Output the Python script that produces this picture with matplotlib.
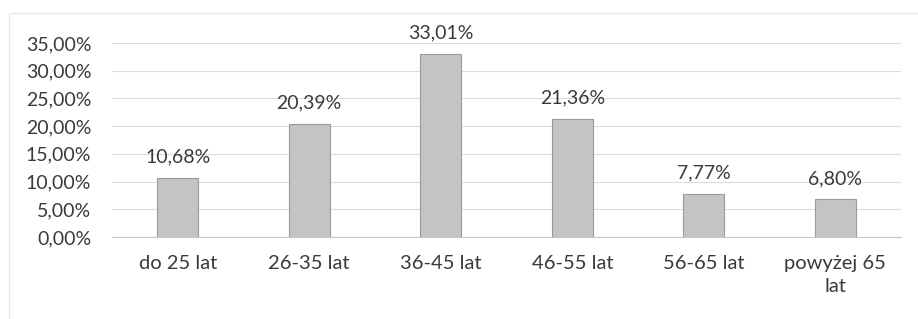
import matplotlib
matplotlib.use("Agg")
import matplotlib.pyplot as plt
from matplotlib.ticker import FuncFormatter
from matplotlib.patches import Rectangle

categories = ["do 25 lat", "26-35 lat", "36-45 lat", "46-55 lat", "56-65 lat", "powyżej 65\nlat"]
values = [10.68, 20.39, 33.01, 21.36, 7.77, 6.80]
yticks = [0, 5, 10, 15, 20, 25, 30, 35]

plt.rcParams['font.family'] = ['Lato', 'DejaVu Sans']
W, H = 918, 319
fig = plt.figure(figsize=(W / 100, H / 100), dpi=100)
ax = fig.add_axes([112 / W, 1 - 237 / H, (901 - 112) / W, (237 - 43) / H])

# faint outer chart border
fig.add_artist(Rectangle((9 / W, 1 - 330 / H), (940 - 9) / W, (330 - 13) / H,
                         transform=fig.transFigure, fill=False, edgecolor="#e6e6e6", linewidth=0.8))

x = range(len(categories))
ax.bar(x, values, width=0.31, color="#c4c4c4", edgecolor="#9a9a9a", linewidth=0.8, zorder=3)
for xi, v in zip(x, values):
    ax.annotate(f"{v:.2f}%".replace(".", ","), (xi, v), xytext=(0, 15), textcoords="offset points",
                ha="center", va="center", fontsize=14, color="#3a3a3a")

ax.set_xlim(-0.5, len(categories) - 0.5)
ax.set_ylim(0, 35)
ax.set_yticks(yticks)
ax.yaxis.set_major_formatter(FuncFormatter(lambda v, p: f"{v:.2f}%".replace(".", ",")))
ax.set_xticks(list(x))
ax.set_xticklabels(categories, linespacing=1.45)
ax.tick_params(axis="x", length=0, labelsize=14.5, colors="#3a3a3a", pad=13)
ax.tick_params(axis="y", length=0, labelsize=14, colors="#3a3a3a", pad=15)
ax.grid(axis="y", color="#dcdcdc", linewidth=0.8, zorder=0)
for s in ["top", "right", "left"]:
    ax.spines[s].set_visible(False)
ax.spines["bottom"].set_color("#c8c8c8")

fig.savefig("out.png", dpi=100)
